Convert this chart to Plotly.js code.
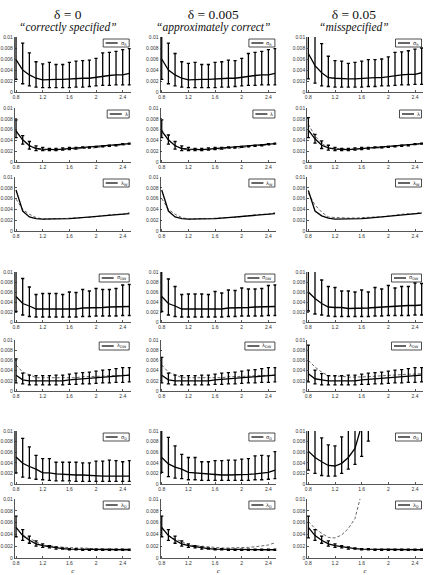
<!DOCTYPE html>
<html>
<head>
<meta charset="utf-8">
<script src="https://cdn.plot.ly/plotly-3.0.1.min.js"></script>
<style>
  html, body { margin: 0; padding: 0; background: #fff; }
  #chart { width: 427px; height: 575px; }
</style>
</head>
<body>
<div id="chart"></div>
<script>
// Grid values of c
const c = [0.8, 0.9, 1.0, 1.1, 1.2, 1.3, 1.4, 1.5, 1.6, 1.7, 1.8, 1.9, 2.0, 2.1, 2.2, 2.3, 2.4, 2.5];

// Tick labels
const xTickVals = [0.8, 1.2, 1.6, 2, 2.4];
const xTickText = ['0.8', '1.2', '1.6', '2', '2.4'];
const yTickVals = [0, 0.002, 0.004, 0.006, 0.008, 0.01];
const yTickText = ['0', '0.002', '0.004', '0.006', '0.008', '0.01'];

// Column and row headings
const deltaLabels = ['δ = 0', 'δ = 0.005', 'δ = 0.05'];
const caseLabels = ['“correctly specified”', '“approximately correct”', '“misspecified”'];
const rowLabels = ['σ<sub>R</sub>', 'λ', 'λ<sub>W</sub>', 'σ<sub>DW</sub>', 'λ<sub>DW</sub>', 'σ<sub>D</sub>', 'λ<sub>D</sub>'];

// ---- sigma_R : mean, upper and lower band ----
const sigR0   = [0.0059,0.0040,0.0031,0.0025,0.0022,0.0023,0.0023,0.0023,0.0024,0.0025,0.0025,0.0025,0.0027,0.0029,0.0030,0.0031,0.0031,0.0034];
const sigR0Hi = [0.0115,0.0089,0.0071,0.0055,0.0051,0.0054,0.0050,0.0050,0.0054,0.0056,0.0057,0.0058,0.0061,0.0071,0.0072,0.0074,0.0077,0.0079];
const sigR0Lo = [0.0023,0.0015,0.0011,0.0009,0.0008,0.0008,0.0008,0.0008,0.0008,0.0009,0.0009,0.0010,0.0011,0.0012,0.0012,0.0013,0.0013,0.0013];
const sigR1   = [0.0060,0.0040,0.0031,0.0025,0.0022,0.0023,0.0023,0.0023,0.0024,0.0025,0.0025,0.0025,0.0027,0.0029,0.0030,0.0031,0.0031,0.0034];
const sigR1Hi = [0.0115,0.0089,0.0070,0.0055,0.0052,0.0054,0.0050,0.0050,0.0054,0.0055,0.0058,0.0057,0.0061,0.0070,0.0072,0.0074,0.0077,0.0079];
const sigR1Lo = [0.0023,0.0015,0.0011,0.0009,0.0008,0.0008,0.0008,0.0008,0.0008,0.0009,0.0009,0.0010,0.0011,0.0012,0.0012,0.0013,0.0013,0.0013];
const sigR2   = [0.0070,0.0048,0.0035,0.0026,0.0025,0.0024,0.0024,0.0024,0.0025,0.0026,0.0026,0.0026,0.0028,0.0030,0.0031,0.0032,0.0032,0.0035];
const sigR2Hi = [0.0120,0.0110,0.0088,0.0065,0.0057,0.0056,0.0052,0.0054,0.0056,0.0059,0.0059,0.0060,0.0064,0.0072,0.0073,0.0075,0.0078,0.0080];
const sigR2Lo = [0.0024,0.0016,0.0011,0.0010,0.0009,0.0009,0.0009,0.0009,0.0009,0.0010,0.0010,0.0011,0.0011,0.0012,0.0013,0.0013,0.0014,0.0014];

// ---- lambda ----
const lam0   = [0.0057,0.0041,0.0030,0.0025,0.0024,0.0023,0.0023,0.0024,0.0025,0.0025,0.0027,0.0027,0.0028,0.0029,0.0030,0.0031,0.0033,0.0034];
const lam0Hi = [0.0078,0.0049,0.0038,0.0030,0.0027,0.0025,0.0025,0.0026,0.0027,0.0027,0.0028,0.0028,0.0029,0.0030,0.0031,0.0032,0.0034,0.0035];
const lam0Lo = [0.0045,0.0033,0.0024,0.0021,0.0021,0.0021,0.0021,0.0022,0.0023,0.0024,0.0026,0.0026,0.0027,0.0028,0.0029,0.0030,0.0032,0.0033];
const lam1   = [0.0057,0.0041,0.0030,0.0025,0.0024,0.0023,0.0023,0.0024,0.0025,0.0025,0.0027,0.0027,0.0028,0.0029,0.0030,0.0031,0.0033,0.0034];
const lam1Hi = [0.0078,0.0050,0.0038,0.0030,0.0027,0.0025,0.0025,0.0026,0.0027,0.0027,0.0028,0.0028,0.0029,0.0030,0.0031,0.0032,0.0034,0.0035];
const lam1Lo = [0.0045,0.0033,0.0024,0.0021,0.0021,0.0021,0.0021,0.0022,0.0023,0.0024,0.0026,0.0026,0.0027,0.0028,0.0029,0.0030,0.0032,0.0033];
const lam2   = [0.0059,0.0043,0.0031,0.0026,0.0024,0.0023,0.0023,0.0024,0.0025,0.0025,0.0027,0.0027,0.0028,0.0029,0.0030,0.0031,0.0033,0.0034];
const lam2Hi = [0.0082,0.0051,0.0039,0.0031,0.0027,0.0025,0.0025,0.0026,0.0027,0.0027,0.0028,0.0028,0.0029,0.0030,0.0031,0.0032,0.0034,0.0035];
const lam2Lo = [0.0045,0.0035,0.0025,0.0022,0.0021,0.0021,0.0021,0.0022,0.0023,0.0024,0.0026,0.0026,0.0027,0.0028,0.0029,0.0030,0.0032,0.0033];

// ---- lambda_W ----
const lamW0 = [0.0076,0.0037,0.0026,0.0023,0.0022,0.0022,0.0022,0.0023,0.0023,0.0024,0.0025,0.0026,0.0027,0.0028,0.0029,0.0030,0.0031,0.0032];
const lamW1 = [0.0076,0.0037,0.0026,0.0023,0.0022,0.0022,0.0022,0.0023,0.0023,0.0024,0.0025,0.0026,0.0027,0.0028,0.0029,0.0030,0.0031,0.0032];
const lamW2 = [0.0075,0.0037,0.0028,0.0024,0.0022,0.0022,0.0022,0.0023,0.0023,0.0024,0.0025,0.0026,0.0027,0.0028,0.0029,0.0030,0.0031,0.0033];

// ---- sigma_DW ----
const sigDW0   = [0.0051,0.0037,0.0032,0.0026,0.0026,0.0026,0.0026,0.0026,0.0026,0.0026,0.0028,0.0028,0.0029,0.0029,0.0030,0.0030,0.0031,0.0031];
const sigDW0Hi = [0.0115,0.0087,0.0070,0.0055,0.0057,0.0057,0.0057,0.0055,0.0060,0.0059,0.0065,0.0062,0.0067,0.0065,0.0065,0.0067,0.0074,0.0075];
const sigDW0Lo = [0.0021,0.0014,0.0011,0.0010,0.0010,0.0010,0.0010,0.0010,0.0010,0.0010,0.0011,0.0011,0.0012,0.0012,0.0012,0.0012,0.0013,0.0013];
const sigDW1   = [0.0051,0.0037,0.0032,0.0026,0.0026,0.0026,0.0026,0.0026,0.0026,0.0026,0.0028,0.0028,0.0029,0.0029,0.0030,0.0030,0.0031,0.0031];
const sigDW1Hi = [0.0115,0.0086,0.0071,0.0055,0.0056,0.0056,0.0056,0.0055,0.0061,0.0058,0.0064,0.0063,0.0068,0.0066,0.0066,0.0067,0.0073,0.0074];
const sigDW1Lo = [0.0021,0.0014,0.0011,0.0010,0.0010,0.0010,0.0010,0.0010,0.0010,0.0010,0.0011,0.0011,0.0012,0.0012,0.0012,0.0012,0.0013,0.0013];
const sigDW2   = [0.0060,0.0047,0.0037,0.0030,0.0029,0.0029,0.0027,0.0027,0.0027,0.0028,0.0029,0.0030,0.0031,0.0031,0.0032,0.0033,0.0033,0.0034];
const sigDW2Hi = [0.0120,0.0115,0.0084,0.0071,0.0069,0.0062,0.0062,0.0060,0.0064,0.0060,0.0069,0.0066,0.0073,0.0068,0.0071,0.0071,0.0078,0.0077];
const sigDW2Lo = [0.0022,0.0016,0.0014,0.0012,0.0011,0.0011,0.0011,0.0011,0.0011,0.0011,0.0012,0.0012,0.0013,0.0013,0.0013,0.0013,0.0014,0.0014];

// ---- lambda_DW ----
const lamDW0   = [0.0031,0.0022,0.0020,0.0020,0.0020,0.0020,0.0020,0.0020,0.0022,0.0023,0.0024,0.0025,0.0026,0.0027,0.0028,0.0029,0.0030,0.0031];
const lamDW0Hi = [0.0063,0.0035,0.0031,0.0030,0.0030,0.0030,0.0031,0.0031,0.0033,0.0035,0.0036,0.0037,0.0039,0.0041,0.0042,0.0044,0.0046,0.0046];
const lamDW0Lo = [0.0016,0.0014,0.0012,0.0012,0.0012,0.0012,0.0012,0.0012,0.0013,0.0013,0.0014,0.0014,0.0015,0.0016,0.0016,0.0017,0.0017,0.0018];
const lamDW1   = [0.0031,0.0022,0.0020,0.0020,0.0020,0.0020,0.0020,0.0020,0.0022,0.0023,0.0024,0.0025,0.0026,0.0027,0.0028,0.0029,0.0030,0.0031];
const lamDW1Hi = [0.0066,0.0035,0.0031,0.0030,0.0030,0.0030,0.0031,0.0031,0.0033,0.0035,0.0036,0.0037,0.0039,0.0041,0.0042,0.0044,0.0046,0.0046];
const lamDW1Lo = [0.0016,0.0014,0.0012,0.0012,0.0012,0.0012,0.0012,0.0012,0.0013,0.0013,0.0014,0.0014,0.0015,0.0016,0.0016,0.0017,0.0017,0.0018];
const lamDW2   = [0.0034,0.0024,0.0022,0.0020,0.0020,0.0020,0.0020,0.0020,0.0022,0.0023,0.0024,0.0025,0.0026,0.0027,0.0028,0.0029,0.0030,0.0031];
const lamDW2Hi = [0.0090,0.0041,0.0034,0.0030,0.0030,0.0030,0.0031,0.0031,0.0033,0.0035,0.0036,0.0037,0.0039,0.0041,0.0042,0.0044,0.0046,0.0046];
const lamDW2Lo = [0.0018,0.0014,0.0012,0.0012,0.0012,0.0012,0.0012,0.0012,0.0013,0.0013,0.0014,0.0014,0.0015,0.0016,0.0016,0.0017,0.0017,0.0018];

// ---- sigma_D ----
const sigD0   = [0.0051,0.0039,0.0033,0.0028,0.0021,0.0021,0.0019,0.0018,0.0018,0.0017,0.0017,0.0016,0.0015,0.0015,0.0015,0.0015,0.0015,0.0015];
const sigD0Hi = [0.0115,0.0086,0.0070,0.0054,0.0048,0.0048,0.0041,0.0041,0.0041,0.0041,0.0040,0.0040,0.0043,0.0043,0.0045,0.0044,0.0042,0.0044];
const sigD0Lo = [0.0021,0.0013,0.0011,0.0009,0.0008,0.0007,0.0006,0.0006,0.0006,0.0005,0.0005,0.0005,0.0005,0.0005,0.0005,0.0005,0.0005,0.0005];
const sigD1   = [0.0050,0.0038,0.0032,0.0028,0.0022,0.0021,0.0019,0.0018,0.0017,0.0017,0.0017,0.0017,0.0017,0.0018,0.0019,0.0021,0.0022,0.0026];
const sigD1Hi = [0.0115,0.0088,0.0072,0.0056,0.0050,0.0050,0.0042,0.0042,0.0044,0.0044,0.0045,0.0045,0.0047,0.0048,0.0053,0.0054,0.0053,0.0061];
const sigD1Lo = [0.0022,0.0014,0.0011,0.0010,0.0008,0.0008,0.0007,0.0007,0.0007,0.0007,0.0007,0.0007,0.0007,0.0007,0.0008,0.0008,0.0009,0.0010];
const sigD2   = [0.0062,0.0050,0.0042,0.0035,0.0034,0.0039,0.0050,0.0067,0.0111,0.0160,0.0230,0.0320,0.0450,0.0600,0.0800,0.1000,0.1300,0.1700];
const sigD2Hi = [0.0130,0.0120,0.0087,0.0074,0.0072,0.0089,0.0110,0.0130,0.0180,0.0250,0.0350,0.0480,0.0650,0.0850,0.1100,0.1400,0.1800,0.2200];
const sigD2Lo = [0.0026,0.0020,0.0016,0.0015,0.0015,0.0020,0.0028,0.0037,0.0052,0.0081,0.0120,0.0170,0.0240,0.0320,0.0430,0.0550,0.0700,0.0900];

// ---- lambda_D ----
const lamD0   = [0.0052,0.0038,0.0030,0.0024,0.0021,0.0019,0.0017,0.0016,0.0015,0.0015,0.0014,0.0014,0.0014,0.0014,0.0014,0.0014,0.0014,0.0014];
const lamD0Hi = [0.0071,0.0048,0.0037,0.0029,0.0024,0.0021,0.0019,0.0017,0.0016,0.0016,0.0015,0.0015,0.0015,0.0015,0.0015,0.0015,0.0015,0.0015];
const lamD0Lo = [0.0036,0.0030,0.0025,0.0020,0.0018,0.0017,0.0015,0.0015,0.0014,0.0014,0.0013,0.0013,0.0013,0.0013,0.0013,0.0013,0.0013,0.0013];
const lamD1   = [0.0052,0.0038,0.0030,0.0024,0.0021,0.0019,0.0017,0.0016,0.0015,0.0015,0.0014,0.0014,0.0014,0.0014,0.0014,0.0014,0.0014,0.0014];
const lamD1Hi = [0.0071,0.0048,0.0037,0.0029,0.0024,0.0021,0.0019,0.0017,0.0016,0.0016,0.0015,0.0015,0.0015,0.0015,0.0015,0.0015,0.0015,0.0015];
const lamD1Lo = [0.0036,0.0030,0.0025,0.0020,0.0018,0.0017,0.0015,0.0015,0.0014,0.0014,0.0013,0.0013,0.0013,0.0013,0.0013,0.0013,0.0013,0.0013];
const lamD2   = [0.0052,0.0038,0.0030,0.0024,0.0021,0.0019,0.0017,0.0016,0.0015,0.0015,0.0014,0.0014,0.0014,0.0014,0.0014,0.0014,0.0014,0.0014];
const lamD2Hi = [0.0071,0.0048,0.0037,0.0029,0.0024,0.0021,0.0019,0.0017,0.0016,0.0016,0.0015,0.0015,0.0015,0.0015,0.0015,0.0015,0.0015,0.0015];
const lamD2Lo = [0.0034,0.0030,0.0025,0.0020,0.0018,0.0017,0.0015,0.0015,0.0014,0.0014,0.0013,0.0013,0.0013,0.0013,0.0013,0.0013,0.0013,0.0013];

// Panel table: rows of estimators, columns of delta; "ref" is the dashed companion curve
const panels = [
  [ {y: sigR0, hi: sigR0Hi, lo: sigR0Lo}, {y: sigR1, hi: sigR1Hi, lo: sigR1Lo}, {y: sigR2, hi: sigR2Hi, lo: sigR2Lo} ],
  [ {y: lam0, hi: lam0Hi, lo: lam0Lo, ref: sigR0}, {y: lam1, hi: lam1Hi, lo: lam1Lo, ref: sigR1}, {y: lam2, hi: lam2Hi, lo: lam2Lo, ref: sigR2} ],
  [ {y: lamW0, ref: sigR0}, {y: lamW1, ref: sigR1}, {y: lamW2, ref: sigR2} ],
  [ {y: sigDW0, hi: sigDW0Hi, lo: sigDW0Lo}, {y: sigDW1, hi: sigDW1Hi, lo: sigDW1Lo}, {y: sigDW2, hi: sigDW2Hi, lo: sigDW2Lo} ],
  [ {y: lamDW0, hi: lamDW0Hi, lo: lamDW0Lo, ref: sigDW0}, {y: lamDW1, hi: lamDW1Hi, lo: lamDW1Lo, ref: sigDW1}, {y: lamDW2, hi: lamDW2Hi, lo: lamDW2Lo, ref: sigDW2} ],
  [ {y: sigD0, hi: sigD0Hi, lo: sigD0Lo}, {y: sigD1, hi: sigD1Hi, lo: sigD1Lo}, {y: sigD2, hi: sigD2Hi, lo: sigD2Lo} ],
  [ {y: lamD0, hi: lamD0Hi, lo: lamD0Lo, ref: sigD0}, {y: lamD1, hi: lamD1Hi, lo: lamD1Lo, ref: sigD1}, {y: lamD2, hi: lamD2Hi, lo: lamD2Lo, ref: sigD2} ]
];

// ---- Geometry (pixels) ----
const W = 427, H = 575;
const colLeft = [14.7, 160.4, 307.0];
const plotW = 116;
const rowBox = [[37, 92], [108, 162], [177, 231], [272, 322], [340, 391], [431, 484], [499, 558]];
const legendW = [26, 22, 26, 30, 30, 26, 26];
const titleX = [68, 213, 354];
const px = v => v / W;
const py = v => 1 - v / H;

const axisColor = '#2a2a2a';
const tickFont = {family: 'Liberation Sans, Arial, sans-serif', size: 5, color: '#333'};
const serif = 'Liberation Serif, Times New Roman, serif';

const traces = [];
const layout = {
  width: W, height: H,
  margin: {l: 0, r: 0, t: 0, b: 0},
  paper_bgcolor: '#fff', plot_bgcolor: '#fff',
  showlegend: false,
  shapes: [], annotations: []
};

let k = 0;
panels.forEach((row, r) => {
  row.forEach((p, ci) => {
    k += 1;
    const sfx = k === 1 ? '' : String(k);
    const xName = 'x' + sfx, yName = 'y' + sfx;
    const x0 = colLeft[ci], x1 = x0 + plotW;
    const [yTop, yBot] = rowBox[r];

    const xa = {
      domain: [px(x0), px(x1)], range: [0.78, 2.52], anchor: yName,
      tickvals: xTickVals, ticktext: xTickText, tickfont: tickFont,
      ticks: 'inside', ticklen: 2, tickcolor: axisColor, tickwidth: 0.8,
      showline: true, linecolor: axisColor, linewidth: 0.8,
      showgrid: false, zeroline: false, fixedrange: true
    };
    if (r === rowBox.length - 1) {
      xa.title = {text: '<i>c</i>', font: {family: serif, size: 7, color: '#222'}, standoff: 4};
    }
    layout['xaxis' + sfx] = xa;
    layout['yaxis' + sfx] = {
      domain: [py(yBot), py(yTop)], range: [0, 0.01], anchor: xName,
      tickvals: yTickVals, ticktext: yTickText, tickfont: tickFont,
      ticks: 'inside', ticklen: 2, tickcolor: axisColor, tickwidth: 0.8,
      showline: true, linecolor: axisColor, linewidth: 0.8,
      showgrid: false, zeroline: false, fixedrange: true
    };

    // dashed companion curve
    if (p.ref) {
      traces.push({
        type: 'scatter', mode: 'lines', x: c, y: p.ref, xaxis: xName, yaxis: yName,
        line: {color: '#555', width: 0.9, dash: '3px,2px'}, hoverinfo: 'skip'
      });
    }
    // estimate with spread bars
    const tr = {
      type: 'scatter', mode: 'lines', x: c, y: p.y, xaxis: xName, yaxis: yName,
      line: {color: '#000', width: 1.3}
    };
    if (p.hi) {
      tr.error_y = {
        type: 'data', symmetric: false,
        array: p.hi.map((v, i) => v - p.y[i]),
        arrayminus: p.lo.map((v, i) => p.y[i] - v),
        color: '#000', thickness: 1.3, width: 1.6
      };
    }
    traces.push(tr);

    // legend box in the upper right corner
    const bR = x0 + 114.5, bL = bR - legendW[r];
    const bT = yTop + 2, bB = bT + 8;
    layout.shapes.push({
      type: 'rect', xref: 'paper', yref: 'paper',
      x0: px(bL), x1: px(bR), y0: py(bB), y1: py(bT),
      line: {color: '#222', width: 0.8}, fillcolor: '#fff', layer: 'above'
    });
    layout.shapes.push({
      type: 'line', xref: 'paper', yref: 'paper',
      x0: px(bL + 2.5), x1: px(bL + 14.5), y0: py((bT + bB) / 2), y1: py((bT + bB) / 2),
      line: {color: '#000', width: 1.2}, layer: 'above'
    });
    layout.annotations.push({
      xref: 'paper', yref: 'paper', x: px(bL + 15.5), y: py((bT + bB) / 2),
      xanchor: 'left', yanchor: 'middle', showarrow: false,
      text: rowLabels[r],
      font: {family: 'DejaVu Sans, sans-serif', size: 5, color: '#222'}
    });
  });
});

// Column headings: delta value over the case description, one two-line label per column
deltaLabels.forEach((t, ci) => {
  layout.annotations.push({
    xref: 'paper', yref: 'paper', x: px(titleX[ci]), y: py(5),
    xanchor: 'center', yanchor: 'top', showarrow: false, align: 'center',
    text: '<span style="font-size:13.5px">' + t + '</span><br>' +
          '<i><span style="font-size:11.5px">' + caseLabels[ci] + '</span></i>',
    font: {family: serif, size: 9.6, color: '#111'}
  });
});

Plotly.newPlot('chart', traces, layout, {staticPlot: true, displayModeBar: false});
</script>
</body>
</html>
